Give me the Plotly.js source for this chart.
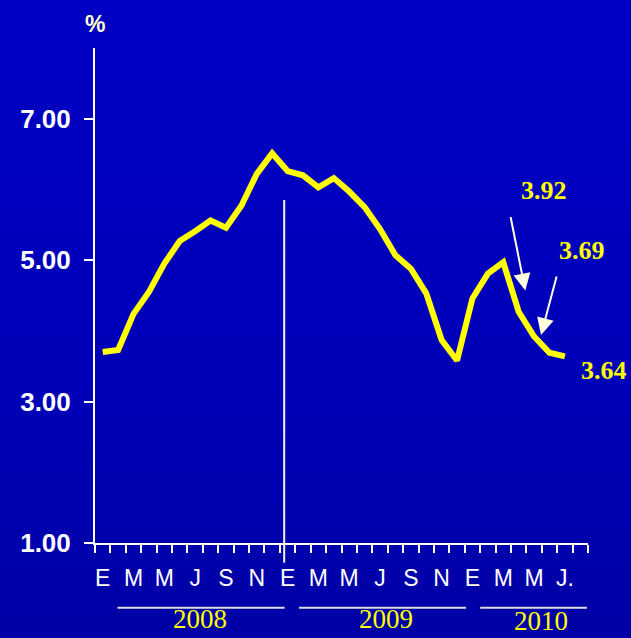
<!DOCTYPE html>
<html>
<head>
<meta charset="utf-8">
<script src="https://cdn.plot.ly/plotly-3.0.1.min.js"></script>
<style>
  html, body { margin: 0; padding: 0; }
  body { width: 631px; height: 638px; background: linear-gradient(to bottom, #0000c4 0%, #0000b8 60%, #0000a6 100%); overflow: hidden; }
  #chart { width: 631px; height: 638px; }
</style>
</head>
<body>
<div id="chart"></div>
<script>
// Monthly series, Jan 2008 .. Jul 2010 (index 0..30)
const monthIndex = Array.from({length: 31}, (_, i) => i);
const rateValues = [3.70, 3.73, 4.24, 4.55, 4.95, 5.27, 5.41, 5.56, 5.46, 5.77, 6.22, 6.51,
                    6.26, 6.20, 6.03, 6.16, 5.97, 5.75, 5.44, 5.07, 4.88, 4.53, 3.87, 3.58,
                    4.46, 4.81, 4.97, 4.27, 3.92, 3.69, 3.64];
const monthTickVals = [0, 2, 4, 6, 8, 10, 12, 14, 16, 18, 20, 22, 24, 26, 28, 30];
const monthTickText = ['E', 'M', 'M', 'J', 'S', 'N', 'E', 'M', 'M', 'J', 'S', 'N', 'E', 'M', 'M', 'J.'];
const yTickVals = [1, 3, 5, 7];
const yearLabels = ['2008', '2009', '2010'];
const calloutLabels = ['3.92', '3.69', '3.64'];

const X0 = -0.5, X1 = 31.5;
const toPaperX = v => (v - X0) / (X1 - X0);

const trace = {
  x: monthIndex, y: rateValues, type: 'scatter', mode: 'lines',
  line: {color: '#ffff00', width: 6, shape: 'linear'},
  hoverinfo: 'skip'
};
// carrier for the month-label axis (no visible marks)
const labelAxisTrace = {
  x: monthTickVals, y: monthTickVals.map(() => null), xaxis: 'x2', yaxis: 'y',
  type: 'scatter', mode: 'lines', line: {color: 'rgba(0,0,0,0)'}, hoverinfo: 'skip'
};

const white = '#ffffff';
const sans = 'Liberation Sans, Arial, sans-serif';
const serif = 'Liberation Serif, Times New Roman, serif';

const layout = {
  width: 631, height: 638,
  margin: {l: 95, r: 43, t: 48, b: 95},
  paper_bgcolor: 'rgba(0,0,0,0)', plot_bgcolor: 'rgba(0,0,0,0)',
  showlegend: false,
  xaxis: {
    range: [X0, X1], tickmode: 'linear', tick0: -0.5, dtick: 1,
    ticks: 'outside', ticklen: 8, tickwidth: 2, tickcolor: white,
    showticklabels: false, showgrid: false, zeroline: false,
    showline: true, linecolor: white, linewidth: 2, fixedrange: true
  },
  xaxis2: {
    range: [X0, X1], overlaying: 'x', anchor: 'y', side: 'bottom',
    tickmode: 'array', tickvals: monthTickVals, ticktext: monthTickText,
    ticks: '', showline: false, showgrid: false, zeroline: false,
    ticklabelstandoff: 19,
    tickfont: {family: sans, size: 23, color: white}
  },
  yaxis: {
    range: [1, 8], tickmode: 'array', tickvals: yTickVals, tickformat: '.2f',
    ticks: 'outside', ticklen: 9, tickwidth: 2, tickcolor: white,
    showgrid: false, zeroline: false,
    showline: true, linecolor: white, linewidth: 2,
    ticklabelstandoff: 8,
    tickfont: {family: sans, size: 26, color: white, weight: 'bold'}
  },
  shapes: [
    // vertical divider at year change
    {type: 'line', xref: 'paper', yref: 'paper', x0: toPaperX(11.78), x1: toPaperX(11.78), y0: -0.04, y1: 0.693,
     line: {color: '#f2f2e6', width: 2}},
    // year underlines
    {type: 'line', xref: 'paper', yref: 'paper', x0: toPaperX(0.96), x1: toPaperX(11.81), y0: -0.131, y1: -0.131, line: {color: '#dcdcdc', width: 2}},
    {type: 'line', xref: 'paper', yref: 'paper', x0: toPaperX(12.74), x1: toPaperX(23.59), y0: -0.131, y1: -0.131, line: {color: '#dcdcdc', width: 2}},
    {type: 'line', xref: 'paper', yref: 'paper', x0: toPaperX(24.5), x1: toPaperX(31.43), y0: -0.131, y1: -0.131, line: {color: '#dcdcdc', width: 2}}
  ],
  annotations: [
    {text: '%', xref: 'paper', yref: 'paper', x: 0, y: 1, yshift: 24, showarrow: false,
     font: {family: sans, size: 23, color: '#ffffcc', weight: 'bold'}, xanchor: 'center', yanchor: 'middle'},
    {text: yearLabels[0], xref: 'paper', yref: 'paper', x: toPaperX(6.3), y: -0.154, showarrow: false,
     font: {family: serif, size: 27, color: '#ffff00'}, xanchor: 'center', yanchor: 'middle'},
    {text: yearLabels[1], xref: 'paper', yref: 'paper', x: toPaperX(18.4), y: -0.154, showarrow: false,
     font: {family: serif, size: 27, color: '#ffff00'}, xanchor: 'center', yanchor: 'middle'},
    {text: yearLabels[2], xref: 'paper', yref: 'paper', x: toPaperX(28.45), y: -0.157, showarrow: false,
     font: {family: serif, size: 27, color: '#ffff00'}, xanchor: 'center', yanchor: 'middle'},
    // callout values
    {text: '<b>' + calloutLabels[0] + '</b>', xref: 'x', yref: 'y', x: 28.66, y: 5.98, showarrow: false,
     font: {family: serif, size: 26, color: '#ffff00'}, xanchor: 'center', yanchor: 'middle'},
    {text: '<b>' + calloutLabels[1] + '</b>', xref: 'x', yref: 'y', x: 31.08, y: 5.14, showarrow: false,
     font: {family: serif, size: 26, color: '#ffff00'}, xanchor: 'center', yanchor: 'middle'},
    {text: '<b>' + calloutLabels[2] + '</b>', xref: 'paper', yref: 'y', x: toPaperX(32.55), y: 3.445, showarrow: false,
     font: {family: serif, size: 26, color: '#ffff00'}, xanchor: 'center', yanchor: 'middle'},
    // arrows
    {text: '', xref: 'x', yref: 'y', x: 27.43, y: 4.57, ax: -15, ay: -75, showarrow: true,
     arrowhead: 2, arrowsize: 1.7, arrowwidth: 2, arrowcolor: '#ffffe0'},
    {text: '', xref: 'x', yref: 'y', x: 28.45, y: 3.94, ax: 16, ay: -60, showarrow: true,
     arrowhead: 2, arrowsize: 1.7, arrowwidth: 2, arrowcolor: '#ffffe0'}
  ]
};

Plotly.newPlot('chart', [trace, labelAxisTrace], layout, {displayModeBar: false, staticPlot: true});
</script>
</body>
</html>
